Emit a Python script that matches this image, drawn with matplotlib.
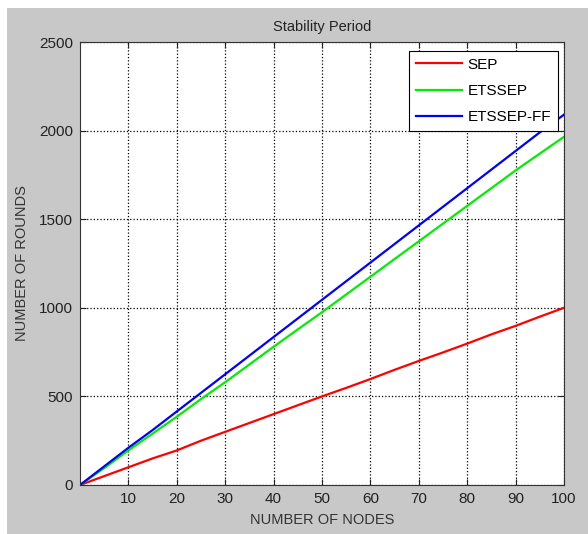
import numpy as np
import matplotlib.pyplot as plt
from matplotlib.patches import Rectangle

plt.rcParams['font.family'] = ['Liberation Sans', 'DejaVu Sans']

# dados
nodes = [0, 5, 10, 15, 20, 25, 30, 35, 40, 45, 50, 55, 60, 65, 70, 75, 80, 85, 90, 95, 100]
sep = [0, 50, 100, 150, 195, 250, 300, 350, 400, 450, 500, 548, 598, 650, 700, 748, 798, 850, 898, 950, 1000]
etssep = [0, 95, 195, 290, 385, 485, 580, 680, 780, 878, 975, 1075, 1175, 1275, 1375, 1475, 1575, 1675, 1775, 1870, 1965]
etssep_ff = [0, 105, 210, 310, 415, 520, 625, 730, 835, 940, 1045, 1150, 1255, 1360, 1465, 1570, 1675, 1780, 1885, 1990, 2090]

xticks = [10, 20, 30, 40, 50, 60, 70, 80, 90, 100]
yticks = [0, 500, 1000, 1500, 2000, 2500]

fig = plt.figure(figsize=(5.88, 5.34), dpi=100, facecolor='white')
# fundo cinza estilo MATLAB
fig.patches.append(Rectangle((7/588, 0), 581/588, 526/534, transform=fig.transFigure,
                             facecolor='#c8c8c8', edgecolor='none', zorder=-10))

ax = fig.add_axes([80/588, 49/534, 484/588, 443/534])
ax.plot(nodes, sep, color='#ff0000', lw=1.6, label='SEP')
ax.plot(nodes, etssep, color='#00ee00', lw=1.6, label='ETSSEP')
ax.plot(nodes, etssep_ff, color='#0000ff', lw=1.6, label='ETSSEP-FF')

ax.set_xlim(0, 100)
ax.set_ylim(0, 2500)
ax.set_xticks(xticks)
ax.set_yticks(yticks)
ax.tick_params(direction='in', top=True, right=True, length=4, labelsize=11,
               colors='#222222', pad=5)
ax.grid(True, color='black', linestyle=':', lw=0.9)
for s in ax.spines.values():
    s.set_color('#333333')

ax.set_title('Stability Period', fontsize=10.5, color='#222222', pad=8)
ax.set_xlabel('NUMBER OF NODES', fontsize=10.5, color='#333333', labelpad=5)
ax.set_ylabel('NUMBER OF ROUNDS', fontsize=10.5, color='#333333', labelpad=7)

leg = ax.legend(loc='upper right', bbox_to_anchor=(0.988, 0.98), fontsize=11, fancybox=False,
                framealpha=1, edgecolor='black', handlelength=3.0, handletextpad=0.4,
                borderpad=0.45, labelspacing=0.8, borderaxespad=0)
leg.get_frame().set_linewidth(0.8)

plt.savefig('out.png', dpi=100, facecolor=fig.get_facecolor())
